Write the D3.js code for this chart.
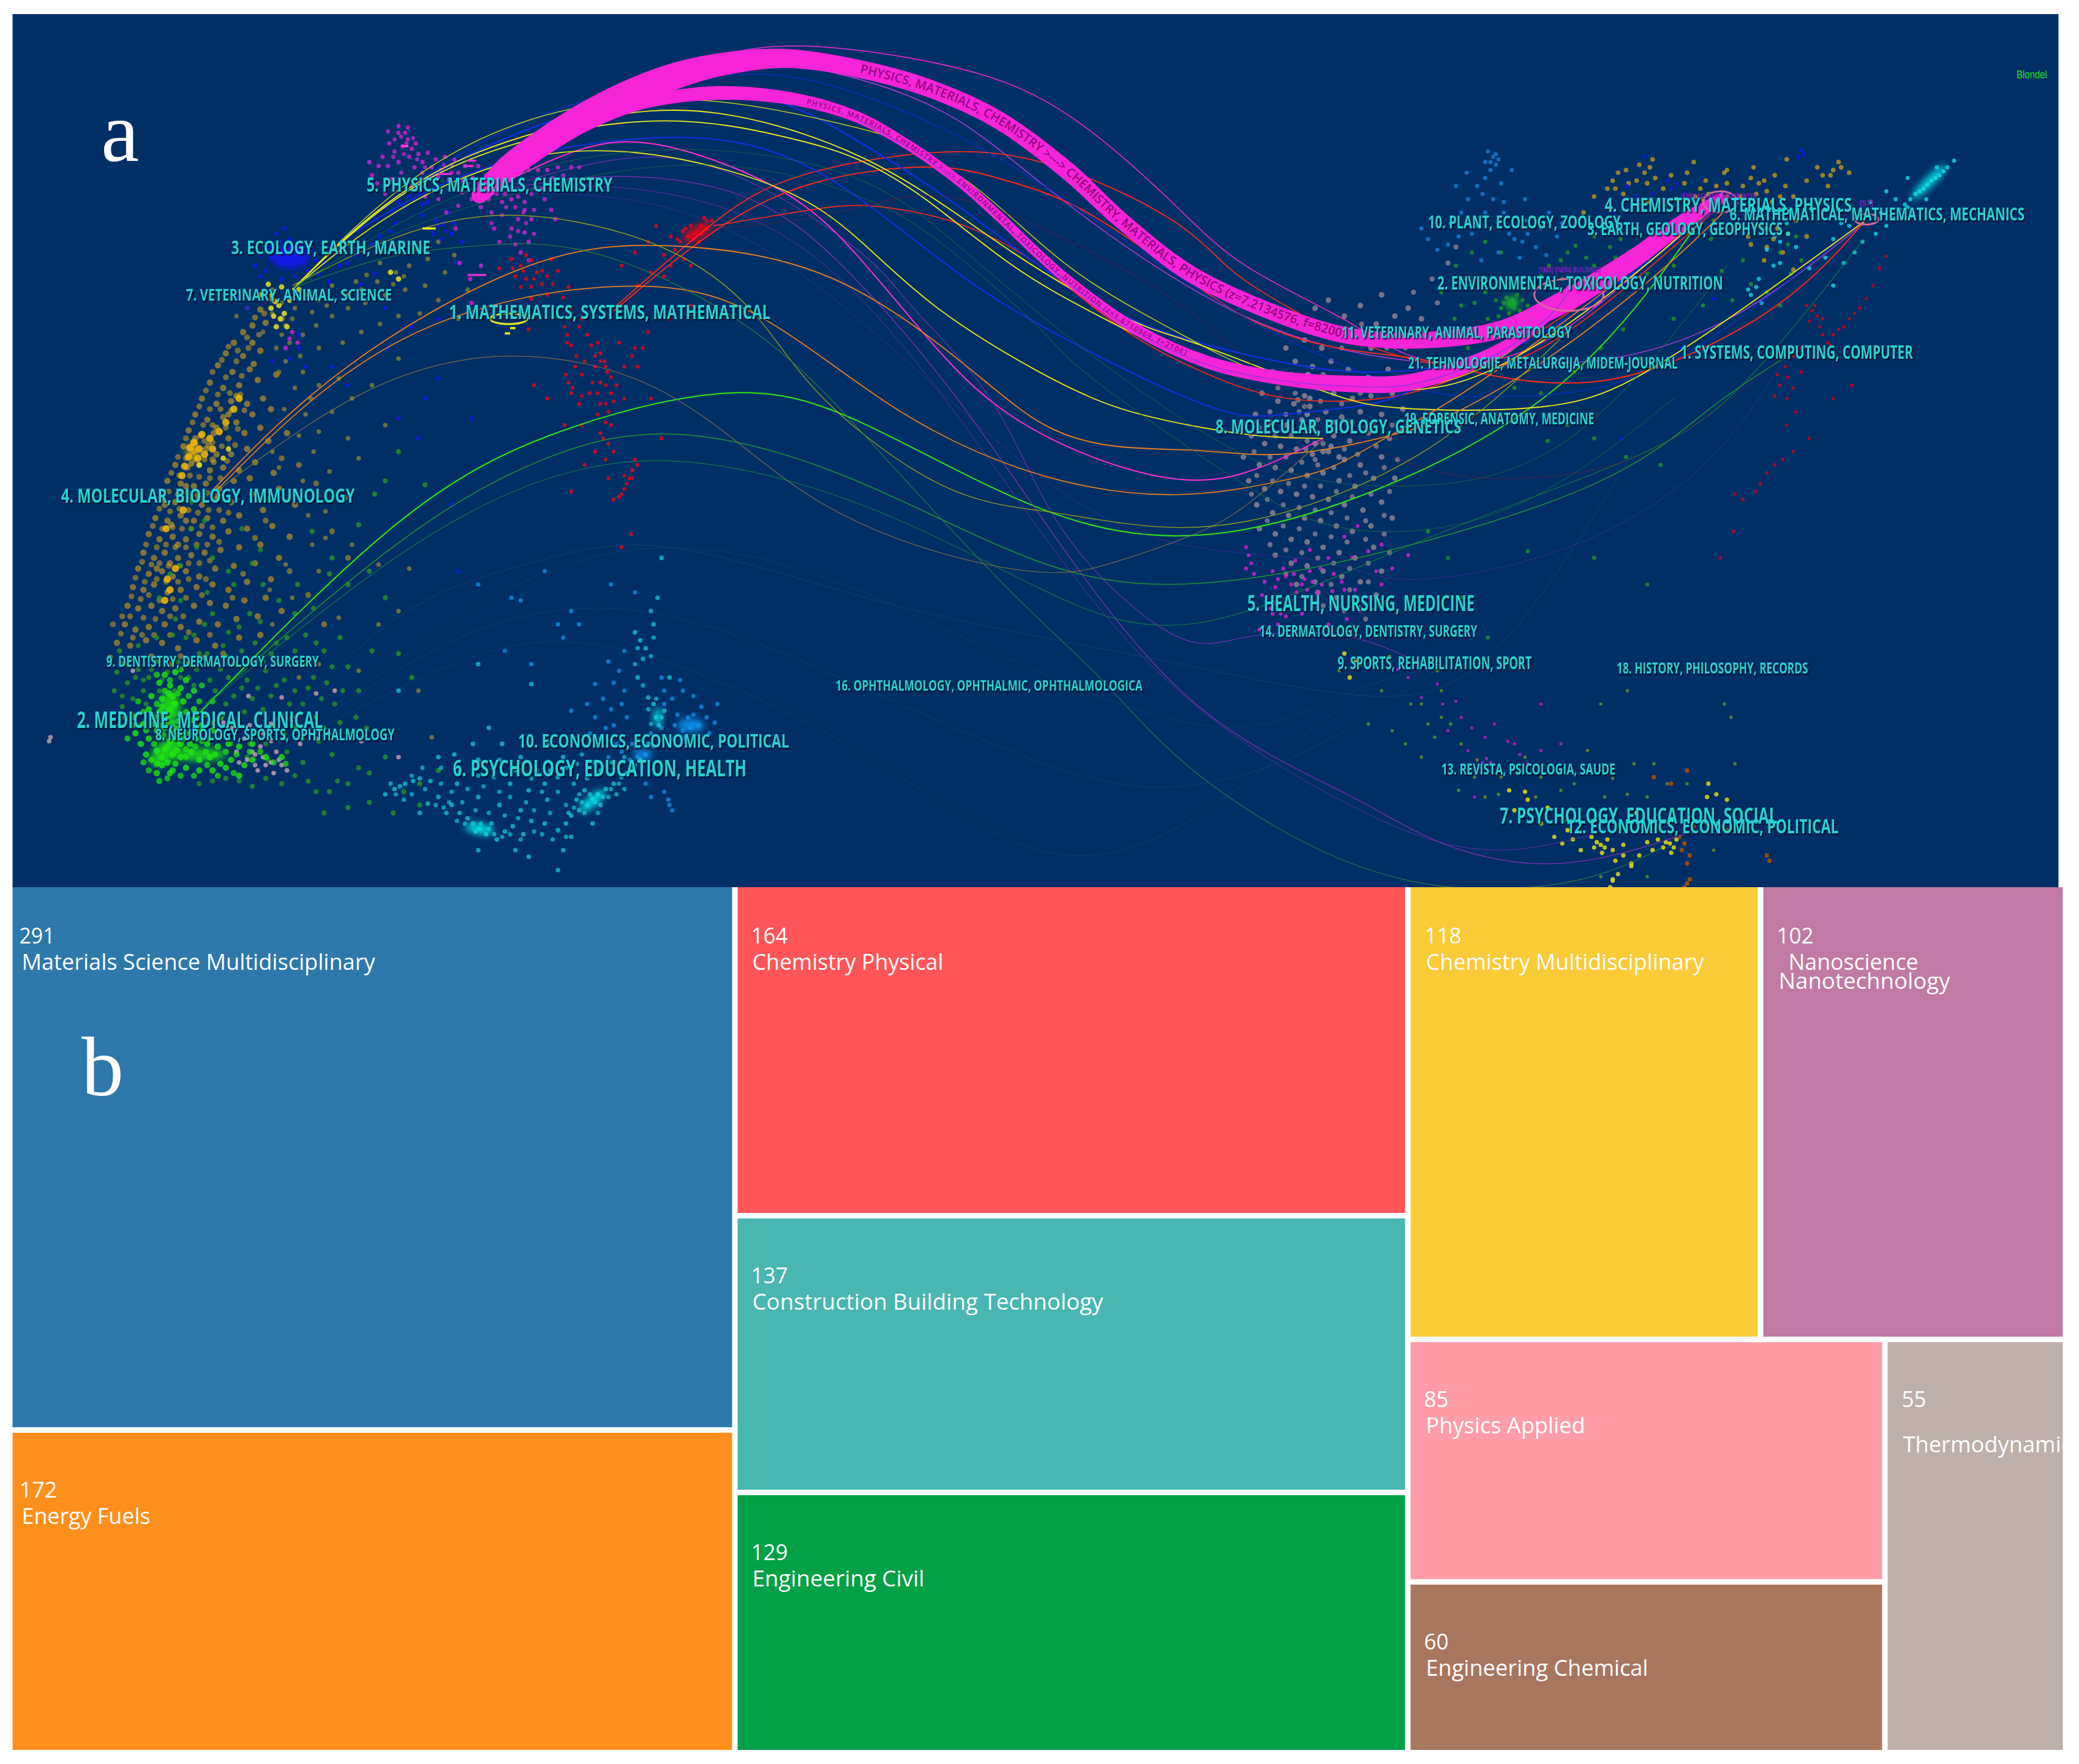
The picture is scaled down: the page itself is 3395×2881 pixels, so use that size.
<!DOCTYPE html>
<html><head><meta charset="utf-8">
<script src="https://d3js.org/d3.v7.min.js"></script>
<style>html,body{margin:0;background:#fff}svg{display:block}</style></head><body>
<svg id="c"></svg>
<script>
/* ---------- treemap data ---------- */
const categories=["Materials Science Multidisciplinary","Energy Fuels","Chemistry Physical","Construction Building Technology","Engineering Civil","Chemistry Multidisciplinary","Nanoscience Nanotechnology","Physics Applied","Engineering Chemical","Thermodynamics"];
const values=[291,172,164,137,129,118,102,85,60,55];
const tileColors=["#2E78AB","#FF8F1C","#FF5558","#49B7B1","#02A146","#FBCB3A","#C07AA3","#FF9CA8","#A9765E","#BDB0AB"];
const tileGroups=[[0,1],[2,3,4],[[5,6],[[7,8],[9]]]];
/* ---------- map: point clouds, in map units (x,y,x,y…) ---------- */
const ptsGold=[196,233,205,225,190,245,200,243,212,240,183,250,176,258,190,258,170,266,183,268,196,264,164,275,175,280,188,278,158,288,168,292,180,290,194,286,208,282,152,300,163,304,174,302,186,304,198,300,147,312,156,316,168,314,178,318,190,312,204,308,142,324,151,328,161,326,172,330,184,326,196,322,138,336,146,340,155,338,163,342,174,342,186,338,202,332,216,326,132,350,141,352,150,350,158,354,168,352,180,354,192,348,126,362,136,364,146,366,155,364,165,368,176,362,188,360,206,356,122,376,132,378,142,376,152,380,162,376,174,378,190,372,210,368,117,390,126,392,136,388,146,392,156,390,168,392,180,388,198,384,222,380,112,402,120,406,130,404,140,406,150,402,160,404,172,400,186,398,205,396,108,416,116,420,124,416,134,420,144,418,154,416,166,414,180,412,196,410,218,404,104,428,112,432,122,430,130,434,140,430,150,434,162,428,176,426,192,424,210,420,100,442,108,444,116,440,126,446,136,444,148,442,160,440,172,444,186,438,204,436,96,456,104,458,114,456,122,460,132,458,146,456,158,454,170,456,184,452,200,450,94,470,102,474,112,472,124,470,136,472,150,468,164,470,178,466,194,464,212,460,88,484,98,486,110,482,122,484,134,488,148,482,162,486,180,480,196,478,150,375,144,349,157,335,147,330,160,346,129,395,134,410,140,392,163,322,172,312,178,298,191,274,140,366,124,380,118,428,128,424];
const ptsGold2=[192,239,199,236,186,254,195,252,172,261,179,264,187,262,167,271,178,272,160,280,170,284,182,283,155,294,164,297,173,296,181,297,150,306,158,308,166,308,174,309,184,309,145,318,153,320,160,320,170,322,179,323,140,330,147,334,154,332,160,333,167,336,177,335,134,344,140,345,147,346,154,346,161,348,171,347,129,356,135,358,143,358,150,359,158,360,166,360,127,370,134,372,141,371,148,372,156,371,164,373,120,383,128,385,135,383,142,384,149,386,157,384,165,384,172,386,115,396,122,398,130,397,137,398,144,398,152,396,160,397,110,410,118,412,125,410,132,412,140,412,148,410,156,410,165,408,107,423,114,425,120,424,127,426,135,426,142,424,150,424,158,422,102,435,109,438,118,436,125,438,134,438,142,436,155,436,99,449,106,451,112,448,120,452,130,451,140,450,152,448,92,464,98,464,108,465,117,466,128,464,138,464,91,477,100,480,107,478,116,478,128,478,142,476,158,478,85,470,83,495,92,500,128,500,114,494,136,494,154,495,168,492,175,450,183,432,192,405,200,392,212,345,225,350,238,364,250,400,262,420,218,430,232,448,244,470];
const ptsGoldBright=[146,333,150,338,142,344,154,342,158,330,139,351,165,325,170,318,176,308,180,300,132,428,124,452,128,444,143,337,149,345,137,358,152,327,160,338,126,436,138,384,125,398];
const ptsOlive=[178,238,186,232,195,222,205,218,212,228,205,236,215,245,222,232,230,222,240,226,250,215,258,220,268,212,276,207,286,198,298,205,308,200,312,188,322,195,330,182,342,192,335,205,320,215,305,218,290,222,275,228,262,232,250,238,238,245,228,252,218,258,208,262,240,262,258,258,272,250,286,244,300,238,316,236,330,226,352,218,345,240,215,272,228,280,240,290,255,285,265,300,280,290,250,310,230,312,262,330,236,340,248,355,228,362,210,352,300,270,290,320,270,345,245,385,265,410,285,425,300,460,315,520,325,555,285,470,240,430,220,450,205,470,255,465,270,505,240,500,225,510,308,428,235,410,260,375,198,250,212,252,220,240,235,235,246,230,262,222,272,218,284,212,296,214,304,208,226,268,210,280,222,292,234,300,214,308,225,328,240,325,205,340,218,376,232,388,245,405,215,425,203,444];
const ptsYellow=[205,222,210,230,214,236,206,238,212,216,202,214,196,222,218,226,225,218,216,246,208,246,150,350,168,345,172,338,294,205,300,210,207,227,211,240,204,232];
const ptsGreenDim=[90,490,98,496,88,506,104,504,112,510,96,514,86,520,108,520,118,498,126,506,134,498,142,510,150,492,160,500,170,494,182,490,192,484,204,492,216,480,230,478,120,520,132,520,146,516,158,512,172,510,186,512,200,505,214,512,228,500,244,490,256,480,92,532,100,538,90,546,106,546,176,524,190,526,204,524,218,530,232,518,246,514,262,502,176,546,192,552,206,546,222,548,238,540,252,530,270,520,186,570,202,572,216,566,228,574,240,558,250,568,262,552,276,548,150,590,170,586,190,592,212,590,232,588,248,596,262,590,278,582,290,570,304,596,316,590,330,580,244,612,262,608,278,604,296,612,316,606,120,450,132,466,146,478,160,462,172,476,188,462,198,440,210,452,224,440,236,458,248,432,128,432,144,398,150,372,176,440,190,424,160,420,235,400,250,420,270,395,282,372,290,362,200,376,300,340,320,365,278,430,262,440,290,450,300,492,310,510,280,490];
const ptsGreenDim2=[94,500,102,510,92,524,110,530,122,512,136,510,148,504,156,492,166,504,176,500,188,498,198,498,210,500,222,490,238,484,250,502,94,540,100,526,108,512,114,504,162,520,170,530,182,518,194,518,208,516,222,520,236,510,168,538,184,536,198,534,212,538,228,530,242,526,258,520,174,560,188,560,200,560,214,552,228,556,244,548,256,544,268,540,160,588,180,588,200,586,222,584,238,596,254,588,270,578,140,480,154,470,168,486,180,472,196,468,208,484,222,462,130,478,118,480,104,486,136,452,156,446,172,430,136,426,148,412,154,392,144,378,182,398,196,414];
const ptsLime=[118,575,122,570,126,574,130,568,124,564,132,575,136,570,118,565,112,556,120,555,128,558,136,560,144,566,150,572,158,570,166,575,174,572,184,576,190,572,200,570,212,570,108,545,116,545,124,548,132,548,140,552,148,556,156,560,164,562,172,560,180,562,190,560,112,534,120,536,128,534,136,538,144,542,152,546,160,550,114,524,122,526,130,524,138,528,146,534,154,538,166,540,120,514,128,516,136,518,124,508,132,506,140,512,146,520,106,560,110,568,102,552,100,540,118,582,128,582,122,576,130,580,140,578,150,580,160,580,170,578,180,584,114,572,126,540,131,530,127,522,143,560,135,553];
const ptsLime2=[116,560,123,553,130,552,138,556,126,562,133,565,140,564,147,562,155,566,162,568,170,566,178,568,188,566,196,566,206,574,215,575,110,550,118,550,126,544,134,543,142,546,150,550,158,556,116,540,122,532,132,530,140,536,148,540,158,544,118,530,124,520,134,522,142,524,150,528,128,512,118,508,136,504,142,500,100,546,96,556,108,574,112,580,120,588,126,586,136,584,146,584,156,576,164,584,176,582,140,570,152,558,130,544,120,546,108,536,104,528,152,516,160,528];
const ptsRose=[178,566,186,572,192,576,198,570,204,574,196,562,208,566,212,576,184,556,174,548,168,544,188,546,198,552,214,556,226,560,238,556,204,545,194,580,206,582,216,580,187,524,220,540,238,522,252,520,272,558,300,570,248,552,100,505,37,558,38,555,212,525,190,566,200,576,210,572,180,574,192,568,204,558];
const ptsBlue=[203,186,210,182,218,180,226,184,234,188,238,196,228,198,220,200,212,198,205,194,215,188,224,190,232,204,240,206,248,212,222,208,212,210,200,204,192,200,180,224,186,232,196,208,250,185,262,178,272,170,282,165,290,156,300,152,308,148,316,146,322,152,330,170,336,174,342,168,326,176,318,162,298,168,286,178,274,188,262,198,338,160,348,182,272,214,290,232,310,246,225,262,218,270,230,276,250,276,262,290,320,300,315,330,330,240,356,235,292,262,300,315,345,198,282,206,205,272,225,252,355,315,340,380,345,430,330,285,312,150,318,154,304,156,296,160,328,166,334,168,340,176,332,180,294,174,280,184,268,192,256,200,244,198,208,176,196,192,188,186,214,172];
const ptsMagenta=[300,95,305,100,307,105,303,110,310,112,293,108,297,114,288,118,285,125,280,132,278,122,292,125,300,122,308,118,315,116,318,122,312,126,322,115,328,120,335,118,340,124,332,128,325,126,318,130,345,130,350,125,342,120,338,135,330,133,352,138,360,138,366,132,372,140,380,146,385,150,378,152,390,148,395,152,400,146,405,135,412,128,420,126,430,126,395,158,400,165,390,165,385,172,395,175,398,182,392,190,370,160,362,156,355,150,348,145,410,150,415,158,418,165,378,125,388,128,398,128,405,128,360,125,295,135,310,140,320,148,336,160,343,172,372,172,300,100,313,108,354,210,362,200,346,198,355,228,215,262,218,255,220,250,224,258];
const ptsMagenta2=[302,103,306,108,311,104,296,118,304,116,314,120,320,126,326,132,334,124,340,130,348,136,356,134,362,144,368,150,374,146,381,156,388,156,394,160,390,174,396,168,402,158,408,142,416,134,370,168,378,162,384,178,402,176,376,182,388,184,398,196,284,138,290,146,302,130,320,140,330,150,345,155,424,132,436,126,297,105,307,96,292,99];
const ptsRed=[528,170,532,172,524,176,518,178,512,182,530,164,536,166,520,170,526,182,514,174,508,188,500,192,505,178,494,170,488,182,478,190,468,200,515,195,520,200,500,208,480,215,396,192,400,196,392,200,404,205,388,208,396,210,408,214,392,216,412,222,400,225,420,204,428,216,385,195,376,202,415,195,430,232,438,240,427,252,430,260,434,268,445,260,452,266,455,272,448,276,457,280,452,288,438,282,428,288,430,296,436,304,444,296,452,304,460,296,464,290,470,276,476,268,480,276,458,310,456,318,452,326,458,334,448,340,474,360,470,368,476,354,480,350,466,374,462,376,490,300,498,330,440,350,430,370,520,230,504,240,425,320,458,360,468,412,475,402,398,248,412,300,402,290,488,250];
const ptsRed2=[433,276,440,272,448,268,452,272,456,276,426,282,431,292,438,298,446,288,450,296,456,290,460,284,427,258,425,246,429,240,436,246,442,252,450,258,462,302,456,304,450,312,460,320,454,330,462,340,456,346,472,364,476,360,470,358,468,372,478,346,528,176,522,180,532,166,516,172,510,180,408,204,402,210,412,208,394,204,386,202,400,216,416,214,424,224,438,320,470,300,484,262,478,262,466,258,505,200,490,205];
const ptsSky=[520,548,526,546,514,550,508,546,534,552,538,544,530,556,518,540,510,538,500,530,528,532,540,530,486,568,480,570,474,572,492,562,468,566,458,570,452,556,448,540,460,534,470,520,466,505,458,498,470,490,448,515,442,530,430,535,504,606,506,610,503,602,500,596,490,600,486,590,498,510,512,512,420,470,385,450,392,452,430,460,424,480,436,470,400,500,380,490,360,440,410,430,460,440,478,446,515,556,522,538,532,540,506,556,498,548,490,552,484,558,476,560,464,560,456,548,462,546,472,540,468,530,462,514,454,526,444,552,506,526,514,520,522,524,500,520];
const ptsCyan=[446,601,450,598,442,606,436,610,430,614,456,594,462,590,468,585,440,595,452,606,434,602,426,620,475,578,482,572,488,560,496,546,494,540,500,535,492,530,488,525,480,510,484,496,486,488,482,482,478,476,492,470,490,460,495,450,498,420,504,510,361,624,356,620,366,628,370,620,352,616,346,612,374,632,380,626,386,622,394,628,400,618,410,620,420,625,430,630,340,606,336,612,330,600,301,592,297,594,305,590,311,588,316,586,324,588,290,598,322,605,316,612,330,570,342,568,360,572,372,585,384,590,398,595,412,602,404,580,392,570,378,560,368,548,356,560,412,560,420,585,424,570,344,590,360,600,376,606,392,610,410,590,434,575,446,620,424,640,398,645,388,640,360,640,420,655,300,520,360,500,400,515];
const ptsCyan2=[444,598,448,604,454,600,438,604,432,608,428,612,460,594,466,590,472,582,478,576,458,600,464,598,470,594,440,612,450,612,358,626,362,620,368,624,372,628,350,620,344,618,378,630,384,628,392,632,402,626,408,628,416,632,426,630,338,604,334,608,328,606,348,604,358,610,368,612,380,614,390,616,402,610,414,612,426,606,436,598,384,600,396,604,408,596,420,596,432,590,442,586,376,596,364,592,352,594,340,596,332,590,320,594,310,598,304,602,298,598,294,590,310,584,318,578,332,578,346,580,360,584,376,572,388,580,400,586,414,580,426,578,438,568,446,574,452,580,460,574,470,570,490,545,498,540,488,534,494,526,484,516,478,500,490,494,480,488,492,480];
const ptsTaupe=[990,232,1000,226,1012,238,1024,230,1040,222,1036,244,1050,238,1060,232,1005,250,1018,256,1032,262,995,262,982,256,968,262,975,272,988,276,1002,272,1015,278,1030,284,1045,278,958,280,968,288,980,290,992,292,1004,296,1018,300,1032,298,1048,296,950,296,962,302,974,304,986,306,998,310,1010,314,1024,310,1040,312,1056,308,945,312,956,318,968,320,980,322,992,326,1004,328,1016,332,1030,326,1046,330,942,328,952,334,964,336,976,338,988,342,1000,340,1012,346,1024,350,1040,344,936,344,948,350,960,352,972,354,984,358,996,356,1008,362,1020,366,1034,360,1050,360,940,362,952,368,964,370,976,372,988,374,1000,376,1012,380,1026,384,1040,378,946,380,958,386,970,388,982,390,994,392,1006,396,1018,400,1032,396,1048,390,948,398,960,402,972,406,984,408,996,412,1008,416,1020,420,1034,412,960,418,972,424,984,426,996,430,1010,434,1024,438,1040,430,976,440,992,446,1006,450,1022,456,1036,448,982,298,986,300,977,301,990,334,996,340,1002,336,1008,344,980,316,984,312,1052,252,1070,240];
const ptsTaupe2=[1064,220,1078,210,1090,198,1096,186,1082,228,1070,250,1058,262,1044,262,1025,244,1010,262,996,282,984,282,972,282,962,292,975,296,994,302,1010,304,1024,296,1040,288,1058,286,956,310,968,312,982,306,992,316,1004,318,1018,318,1034,318,1048,320,948,322,960,328,972,328,984,332,996,334,1012,338,1022,342,1036,336,1052,346,944,340,956,344,968,344,980,348,992,350,1004,352,1016,358,1028,356,1042,352,946,358,958,362,970,364,982,366,994,366,1006,370,1018,374,1032,372,1046,370,942,372,954,376,966,380,978,382,990,384,1002,386,1014,390,1028,392,1042,388,954,392,966,396,978,398,990,402,1002,404,1014,408,1028,406,1042,402,956,410,968,414,980,416,992,420,1004,424,1016,428,1030,424,1046,416,968,432,980,434,990,438,1002,440,1016,444,1030,438,996,456,1012,460,1028,466,985,282,991,288,978,310,988,320,983,338,990,346];
const ptsMagR=[938,412,940,418,942,424,938,428,944,432,958,430,962,436,966,428,972,440,980,440,984,444,976,446,988,438,992,446,964,462,958,462,968,464,950,448,956,458,962,470,948,474,995,440,1003,445,1010,438,1018,420,1030,415,1040,410,1030,450,1040,440,1060,418,1048,428,1000,420,1012,404,1022,396,986,414,975,422,960,442,968,434,974,432,982,436,986,430,994,428,1004,432,1012,444,1020,444,1036,430,964,450,952,438,960,454,970,456,980,462,1000,470,1014,466,1024,460];
const ptsGreenR=[1138,228,1134,224,1142,222,1130,232,1144,234,1136,236,1150,230,1126,226,1118,220,1108,215,1120,240,1152,216,1160,208,1175,196,1186,185,1200,178,1212,186,1216,194,1226,190,1232,196,1236,188,1222,206,1240,206,1255,182,1270,175,1288,180,1290,166,1260,200,1340,190,1346,184,1352,178,1356,196,1348,206,1130,190,1118,182,1108,190,1096,200,1085,220,1095,240,1105,262,1122,280,1140,292,1160,296,1185,280,1205,262,1222,248,1235,270,1260,240,1282,230,1304,226,1318,214,1330,220,1340,230,1296,204,1312,196,1180,320,1165,332,1200,330,1224,344,1250,350,1075,400,1090,420,1100,450,1120,480,1200,420,1240,440,1150,415,1140,232,1132,228,1146,226,1128,238,1110,228,1100,230,1166,200,1180,190,1194,194,1206,172,1220,180,1242,196,1250,212,1176,210,1190,216,1166,216,1200,200];
const ptsSkyR=[1120,114,1124,118,1126,124,1122,128,1128,120,1118,122,1112,140,1105,150,1116,146,1130,138,1138,128,1100,160,1092,168,1112,170,1128,168,1136,176,1146,182,1156,186,1164,192,1144,194,1128,190,1115,196,1082,188,1075,180,1070,172,1090,184,1148,166,1160,172,1172,178,1132,152,1148,150,1104,130,1096,140,1122,122,1126,116,1118,134,1124,150,1132,160,1118,160,1108,176,1098,178,1140,180,1150,176,1166,160,1176,168];
const ptsGoldR=[1238,130,1242,126,1246,134,1240,138,1232,136,1226,138,1214,136,1218,130,1210,142,1222,146,1252,142,1262,150,1280,142,1284,136,1276,148,1292,140,1300,148,1312,140,1318,134,1324,138,1330,144,1336,132,1344,140,1350,148,1360,136,1372,132,1380,128,1386,126,1376,140,1392,130,1270,130,1298,130,1320,126,1345,120,1325,170,1335,180,1342,190,1318,184,1328,196,1350,203,1360,178,1352,166,1200,148,1192,160,1240,152,1258,132,1305,160,1340,158,1300,128,1275,122,1234,124,1244,120,1216,142,1224,128,1286,146,1282,150,1290,152,1310,148,1322,146,1328,136,1340,148,1334,152,1378,132,1384,122,1368,126,1300,138,1268,138,1316,178,1330,186,1346,176,1338,172];
const ptsBlueR=[1356,113,1358,116,1354,118,1258,142,1255,136,1262,138,1225,140,1232,148,1244,146,1268,146,1280,158,1250,158,1215,160,1238,118,1290,225,1265,262,1220,330];
const ptsCyanR=[1471,121,1466,126,1460,132,1454,136,1448,142,1442,146,1438,150,1434,154,1430,158,1425,164,1440,160,1450,150,1458,126,1420,170,1412,176,1402,182,1396,190,1388,198,1436,134,1420,144,1408,152,1400,162,1386,168,1380,180,1374,194,1362,202,1340,182,1336,178,1346,176,1352,186,1330,188,1322,216,1316,218,1324,210,1326,228,1335,200,1380,215,1463,129,1457,134,1451,139,1445,144,1436,156,1427,150,1416,160,1392,170,1345,168,1340,198,1318,222,1330,172];
const ptsRedR=[1364,234,1368,238,1362,242,1370,246,1392,240,1396,236,1388,246,1380,252,1376,258,1344,276,1346,284,1340,290,1336,298,1345,300,1350,268,1356,262,1352,310,1345,320,1350,340,1362,330,1325,364,1322,370,1330,356,1336,350,1342,346,1306,372,1312,376,1380,300,1420,193,1415,202,1410,215,1405,225,1400,232,1404,265,1394,290,1378,260,1305,400,1295,420,1366,230,1360,230,1372,240,1384,248,1344,268,1338,282,1350,292,1356,280,1366,268,1372,252];
const ptsYellowR=[1205,636,1200,638,1210,632,1206,642,1198,630,1214,640,1190,640,1222,636,1228,650,1234,644,1257,635,1252,638,1262,632,1248,632,1244,640,1258,642,1240,634,1214,662,1218,658,1228,652,1150,602,1148,596,1170,630,1180,625,1160,620,1140,610,1136,595,1165,608,1285,600,1292,598,1300,602,1232,612,1214,663,1212,668,1020,497,1024,500,1012,492,1016,510,1286,590,1202,634,1208,638,1254,634,1260,638,1216,648,1176,635,1184,632,1222,644];
const ptsOliveR=[1040,520,1062,530,1075,545,1080,555,1085,540,1100,560,1110,585,1098,595,1118,600,1130,585,1148,570,1160,585,1175,595,1190,610,1208,600,1225,598,1245,575,1255,590,1260,610,1275,610,1300,610,1306,575,1303,540,1298,530,1225,520,1205,530,1195,565,1082,505,1046,494,1008,505,1030,545,1048,550,1058,560,1070,570,1085,520,1290,640,1240,660,1205,660,1070,530,1092,545,1112,572,1128,598,1142,582,1156,600,1185,590,1214,586,1240,600,1230,575,1270,590,1290,612,1178,618];
const ptsMagR2=[1119,571,1116,574,1122,574,1086,530,1100,540,1125,545,1135,558,1140,560,1160,565,1150,575,1105,565,1090,550,1070,525,1060,510,1052,504,1082,515,1110,600,1175,560,1160,530,1096,528,1108,548,1118,555,1144,568,1128,578];
const ptsBrown=[1268,635,1266,640,1272,644,1264,630,1270,650,1275,622,1258,590,1270,580,1285,620,1300,625,1330,644,1332,648,1270,665,1268,668,1272,662,1245,585];
const blobColors=["#22e810","#f0c000","#1414ff","#ff10e0","#ff0010","#00f8f8","#0a9cff","#d8a8b4"];
const blobs=[[0,125,566,14,8,-40],[0,128,532,8,12,0],[0,150,568,20,5,0],[2,218,193,15,9,0],[4,525,175,12,5,-30],[5,446,603,12,4,-40],[5,361,624,11,4,10],[6,520,546,10,5,0],[6,484,568,7,4,0],[5,495,540,3,7,0],[5,1452,137,3.5,18,45],[0,1138,228,5,5,0],[1,145,340,5,6,0]];
/* ---------- map: links ---------- */
const linkKnots=[
[[150,537],[300,395],[420,330],[550,299],[650,320],[784,382],[904,399],[1034,365],[1177,286],[1284,160]],
[[155,530],[300,410],[410,350],[510,330],[640,360],[784,423],[900,436],[1034,415],[1200,364],[1283,308],[1344,269]],
[[150,535],[300,420],[420,362],[530,352],[660,385],[784,440],[900,468],[1060,407],[1228,343],[1311,287],[1403,180]],
[[361,147],[450,80],[540,45],[615,37],[724,54],[804,88],[883,153],[936,199],[1016,240],[1070,268],[1150,262],[1230,205],[1295,150]],
[[361,147],[435,115],[500,112],[590,146],[645,194],[693,247],[751,305],[830,345],[899,360],[950,350],[996,330]],
[[361,147],[460,72],[560,50],[645,62],[724,93],[804,153],[936,237],[1060,269],[1158,272],[1228,265],[1311,234],[1402,169]],
[[361,147],[450,125],[540,128],[645,190],[685,233],[751,305],[800,400],[884,476],[934,478],[1010,478],[1074,502]],
[[361,147],[450,135],[560,150],[640,210],[720,300],[800,410],[900,530],[1014,594],[1086,633],[1175,649],[1268,628]],
[[361,147],[450,142],[560,165],[650,230],[740,340],[830,460],[920,545],[1014,603],[1086,633],[1144,638],[1200,628]],
[[462,232],[537,170],[600,135],[703,117],[788,125],[880,165],[923,201],[963,226],[1020,255],[1095,272],[1170,255],[1295,155]],
[[462,234],[537,176],[610,140],[698,127],[751,136],[804,153],[857,185],[910,221],[946,242],[1002,261],[1064,269],[1113,280],[1166,286],[1239,278],[1339,228],[1405,165]],
[[537,170],[600,160],[645,155],[685,160],[724,170],[777,196],[830,237],[870,262],[910,281],[961,298],[1022,300],[1074,290],[1150,255],[1295,155]],
[[257,181],[340,125],[445,85],[560,72],[645,109],[724,156],[830,230],[936,264],[1016,278],[1090,272],[1170,245],[1295,155]],
[[257,181],[345,135],[450,110],[560,110],[645,150],[724,208],[804,255],[910,305],[961,310],[1022,304],[1074,288],[1180,230]],
[[257,181],[345,118],[450,75],[560,58],[645,73],[751,119],[860,190],[960,250],[1060,290],[1130,296],[1200,290],[1283,257],[1395,172]],
[[220,218],[300,150],[390,110],[500,92],[590,105],[645,121],[698,151],[764,201],[830,237],[910,271],[1042,291],[1130,272],[1230,205],[1295,150]],
[[220,218],[300,160],[400,120],[500,120],[590,145],[645,180],[703,230],[777,276],[838,305],[899,320],[950,328],[996,330]],
[[220,218],[320,130],[430,85],[540,78],[645,98],[677,109],[738,143],[804,201],[883,247],[936,274],[989,288],[1060,291],[1130,268],[1181,222]],
[[220,218],[320,135],[440,95],[540,88],[660,125],[760,190],[850,240],[899,257],[996,294],[1043,305],[1105,308],[1167,304],[1222,288],[1300,240],[1403,167]],
[[160,369],[260,279],[400,202],[510,190],[625,210],[725,275],[784,318],[840,335],[899,338],[950,342],[1002,337],[1053,325],[1099,308],[1177,261],[1255,199],[1297,160]],
[[160,372],[300,258],[465,221],[570,240],[675,309],[784,356],[884,371],[961,361],[1002,351],[1043,329],[1084,306],[1160,255],[1285,160]],
[[160,372],[270,300],[380,272],[500,296],[600,369],[700,412],[784,429],[834,423],[899,401],[940,378],[996,331]],
[[220,215],[300,180],[390,164],[500,189],[570,240],[620,300],[710,365],[784,382],[850,392],[940,390],[1070,340],[1180,250]],
[[220,217],[290,195],[360,188],[450,193],[570,253],[660,340],[760,445],[830,510],[900,580],[1014,647],[1117,667],[1200,658],[1251,638]],
[[220,217],[300,170],[400,130],[520,115],[645,136],[724,190],[800,250],[870,300],[960,350],[1060,360],[1180,330],[1300,200]],
[[220,217],[300,176],[400,145],[530,125],[645,150],[711,187],[777,242],[804,269],[851,305],[950,370],[1025,395],[1140,380],[1260,300]],
[[537,172],[610,165],[680,151],[751,160],[883,225],[960,290],[1060,346],[1144,356],[1241,339],[1339,271]],
[[361,147],[450,150],[560,180],[680,270],[800,370],[900,410],[1000,420],[1060,435],[1180,410],[1280,350],[1344,269]],
[[200,560],[300,465],[400,429],[500,412],[650,451],[784,479],[900,500],[1040,520],[1130,480],[1230,340]],
[[215,560],[330,490],[430,464],[560,480],[784,575],[900,585],[990,560],[1080,505]],
[[210,565],[340,505],[460,490],[640,560],[784,640],[900,610],[990,545],[1060,500]],
[[196,570],[300,500],[420,430],[560,420],[700,470],[784,505],[920,548],[1010,520],[1074,504]]
];
const linkColors=["#2ee61a","#1f9f2e","#158a38","#f02cd2","#ff30d0","#c040e0","#9a35c8","#9a30c0","#8030b8","#ff2a1a","#ff2a1a","#ff2a1a","#1030e8","#1030e8","#0f2ed8","#e8e820","#dcdc20","#c8d020","#e6e620","#f08020","#e88020","#8a7a40","#9aa818","#2e8a3a","#227a3a","#1f7a38","#6a2038","#5a2aa8","#1a5a70","#1a5070","#184f78","#174f6a"];
const linkWidths=[2,1.5,1.2,1.5,2,1.5,1.1,1.3,1,1.7,2,1.7,2.2,2,1.4,1.9,1.9,1.5,1.9,1.8,1.7,1.2,1.4,1.2,1.1,1.1,1,1,.9,.9,.9,.9];
const linkAlpha=[1,.9,.8,1,1,.95,.75,.85,.7,1,1,1,1,1,.8,1,1,.95,1,1,1,.85,.9,.8,.6,.6,.7,.6,.55,.5,.45,.45];
/* ---------- map: the two thick ribbons [x,y,width] ---------- */
const ribbonA=[[362,146,10],[380,128,16],[410,106,18],[450,82,19],[500,60,19],[540,49,16],[590,44,13],[645,51.5,12],[698,66,12],[751,90,12],[804,129,12],[843,165,11],[896,206,11],[963,237,11],[1016,253,11],[1074,256,11],[1130,248,12],[1172,230,15],[1228,196,13],[1270,165,10],[1298,148,6]];
const ribbonB=[[362,148,8],[400,118,10],[440,94,9],[482,78,8],[540,70,9],[600,75,8],[645,88,7],[685,110,6],[724,138,6],[751,162,6],[777,187,6],[804,211,6],[857,249,7],[910,273,8],[963,284.5,9],[1016,289,11],[1060,288,11],[1116,270,9],[1150,250,7],[1172,230,6],[1182,216,3]];
const ribbonRoot=[361,147];
const ribbonATitle="PHYSICS, MATERIALS, CHEMISTRY >---> CHEMISTRY, MATERIALS, PHYSICS (z=7.2134576, f=8200)";
const ribbonBTitle="PHYSICS, MATERIALS, CHEMISTRY >---> ENVIRONMENTAL, TOXICOLOGY, NUTRITION (z=1.6710969, f=2106)";
/* ---------- map: labels ---------- */
const mapLabels=["5. PHYSICS, MATERIALS, CHEMISTRY","3. ECOLOGY, EARTH, MARINE","7. VETERINARY, ANIMAL, SCIENCE","1. MATHEMATICS, SYSTEMS, MATHEMATICAL","4. MOLECULAR, BIOLOGY, IMMUNOLOGY","9. DENTISTRY, DERMATOLOGY, SURGERY","2. MEDICINE, MEDICAL, CLINICAL","8. NEUROLOGY, SPORTS, OPHTHALMOLOGY","10. ECONOMICS, ECONOMIC, POLITICAL","6. PSYCHOLOGY, EDUCATION, HEALTH","16. OPHTHALMOLOGY, OPHTHALMIC, OPHTHALMOLOGICA","10. PLANT, ECOLOGY, ZOOLOGY","4. CHEMISTRY, MATERIALS, PHYSICS","6. MATHEMATICAL, MATHEMATICS, MECHANICS","3. EARTH, GEOLOGY, GEOPHYSICS","2. ENVIRONMENTAL, TOXICOLOGY, NUTRITION","11. VETERINARY, ANIMAL, PARASITOLOGY","21. TEHNOLOGIJE, METALURGIJA, MIDEM-JOURNAL","1. SYSTEMS, COMPUTING, COMPUTER","19. FORENSIC, ANATOMY, MEDICINE","8. MOLECULAR, BIOLOGY, GENETICS","5. HEALTH, NURSING, MEDICINE","14. DERMATOLOGY, DENTISTRY, SURGERY","9. SPORTS, REHABILITATION, SPORT","18. HISTORY, PHILOSOPHY, RECORDS","13. REVISTA, PSICOLOGIA, SAUDE","7. PSYCHOLOGY, EDUCATION, SOCIAL","12. ECONOMICS, ECONOMIC, POLITICAL"];
const labelX0=[276,174,140,338,46,80,58,117,390,341,629,1075,1208,1302,1195,1082,1010,1060,1265,1057,915,939,948,1007,1217,1085,1129,1179];
const labelX1=[461,324,295,580,267,240,243,297,594,562,860,1220,1394,1524,1342,1297,1183,1263,1440,1200,1100,1110,1112,1153,1361,1216,1338,1384];
const labelY=[139,186,222,235,373,498,542,553,558,578,516,167,154,161,172,213,250,273,265,315,321,454,475,499,503,579,614,622];
const labelSize=[32,31,27,32,32,25,37,26,30,38,24,29,33,29,29,31,27,27,31,27,33,36,27,29,25,25,36,33];
/* small node marks */
const nodeRings=[[1181,222,26,12,"#d8689c"],[1405,165,9,4,"#d8689c"],[383,240,14,4,"#e8e820"],[1295,152,13,8,"#d8689c"]];
const nodeTexts=["[1880] ENERG BUILDINGS","[8200] ACS APPL MATER INTER","[57]"];
const nodeTextPos=[[1158,205,47],[1265,150,57],[1400,155,10]];
const dashes=[[323,172,10,"#f0f020"],[359,207,14,"#e030d0"],[335,131,10,"#e030d0"],[353,125,7,"#e030d0"],[355,121,7,"#e030d0"],[305,110,5,"#ff40e0"],[386,247,4,"#f0f020"],[382,251,4,"#f0f020"]];

/* ---------- scaffolding ---------- */
const W=3395,H=2881;
const svg=d3.select("#c").attr("width",W).attr("height",H).attr("viewBox",[0,0,W,H]);
const x=d3.scaleLinear().domain([0,1565]).range([0,W]);
const y=d3.scaleLinear().domain([0,1328]).range([0,H]);
const k=W/1565;
const pairs=a=>d3.range(0,a.length,2).map(i=>[a[i],a[i+1]]);
const defs=svg.append("defs");
defs.append("filter").attr("id","blur").attr("x","-60%").attr("y","-60%").attr("width","220%").attr("height","220%").append("feGaussianBlur").attr("stdDeviation",6);
defs.append("clipPath").attr("id","mapClip").append("rect").attr("x",20.5).attr("y",23).attr("width",3341).attr("height",1426);

/* panel a */
svg.append("rect").attr("x",20.5).attr("y",23).attr("width",3341).attr("height",1426).attr("fill","#002F66");
const map=svg.append("g").attr("clip-path","url(#mapClip)");
map.append("g").selectAll("ellipse").data(blobs).join("ellipse")
 .attr("transform",d=>`translate(${x(d[1])},${y(d[2])}) rotate(${d[5]})`)
 .attr("rx",d=>d[3]*k).attr("ry",d=>d[4]*k).attr("fill",d=>blobColors[d[0]]).attr("opacity",.85).attr("filter","url(#blur)");
const clouds=[[ptsGold,"#dca514",5.2,.58],[ptsGold2,"#dca514",4.8,.52],[ptsOlive,"#a89b2a",3.8,.6],[ptsGreenDim,"#2a9a22",4.2,.75],[ptsGreenDim2,"#2a9a22",4.2,.7],[ptsGoldBright,"#f6b800",6,.85],[ptsYellow,"#e8e020",4.4,.85],[ptsRose,"#d8a8b8",3.8,.75],[ptsLime,"#22e612",5.2,.8],[ptsLime2,"#22e612",5,.7],[ptsBlue,"#1616f0",3.6,.75],[ptsMagenta,"#d826d8",3.6,.75],[ptsMagenta2,"#d826d8",3.4,.7],[ptsRed,"#ec0616",3.2,.8],[ptsRed2,"#ec0616",3,.8],[ptsSky,"#1296ec",3.6,.7],[ptsCyan,"#18dce4",3.8,.65],[ptsCyan2,"#18dce4",3.6,.6],[ptsTaupe,"#b39aa0",4.6,.65],[ptsTaupe2,"#b39aa0",4.2,.6],[ptsMagR,"#d820d8",3.2,.8],[ptsGreenR,"#1f9a28",3.4,.75],[ptsSkyR,"#1884d8",3.4,.75],[ptsGoldR,"#c89f18",3.8,.75],[ptsBlueR,"#1414f0",3,.85],[ptsCyanR,"#18e0e8",3.4,.75],[ptsRedR,"#c80818",2.8,.8],[ptsOliveR,"#6f9428",2.8,.75],[ptsMagR2,"#c020c8",2.6,.8],[ptsYellowR,"#dcd818",3.6,.85],[ptsBrown,"#b45000",3.6,.85]];
clouds.forEach(([p,c,r,o])=>map.append("g").selectAll("circle").data(pairs(p)).join("circle")
 .attr("cx",d=>x(d[0])).attr("cy",d=>y(d[1])).attr("r",r).attr("fill",c).attr("opacity",o));

const spline=d3.line().x(d=>x(d[0])).y(d=>y(d[1])).curve(d3.curveCatmullRom.alpha(.5));
const smooth=d3.line().x(d=>x(d[0])).y(d=>y(d[1])).curve(d3.curveBasis);
// basis control points that make the smooth curve pass close to each knot
const through=kn=>kn.map((p,i)=>(i===0||i===kn.length-1)?p:[1.5*p[0]-.25*(kn[i-1][0]+kn[i+1][0]),1.5*p[1]-.25*(kn[i-1][1]+kn[i+1][1])]);
map.append("g").attr("fill","none").selectAll("path").data(linkKnots).join("path")
 .attr("d",d=>smooth(through(d))).attr("stroke",(d,i)=>linkColors[i]).attr("stroke-width",(d,i)=>linkWidths[i]).attr("opacity",(d,i)=>linkAlpha[i]);

function normalAt(kn,i){
  const a=kn[Math.max(0,i-1)],b=kn[Math.min(kn.length-1,i+1)];
  const dx=b[0]-a[0],dy=b[1]-a[1],l=Math.hypot(dx,dy);
  return [-dy/l,dx/l];
}
function ribbonPath(kn){
  const up=[],dn=[];
  kn.forEach((p,i)=>{
    const [nx,ny]=normalAt(kn,i),h=p[2]/2;
    up.push([p[0]+nx*h,p[1]+ny*h]);dn.unshift([p[0]-nx*h,p[1]-ny*h]);
  });
  return spline(up)+"L"+spline(dn).slice(1)+"Z";
}
const ribbonPaint=map.append("g").attr("fill","#F724D8").attr("stroke","#F724D8").attr("stroke-width",3).attr("stroke-linejoin","round");
ribbonPaint.append("path").attr("d",ribbonPath(ribbonB));
ribbonPaint.append("path").attr("d",ribbonPath(ribbonA));
ribbonPaint.append("circle").attr("cx",x(ribbonRoot[0])).attr("cy",y(ribbonRoot[1])).attr("r",13).attr("stroke","none");
map.append("path").attr("d",spline(ribbonB.slice(6).map(d=>[d[0],d[1]+1.8]))).attr("fill","none").attr("stroke","#7a3ae0").attr("stroke-width",1.5).attr("opacity",.8);

function ribbonText(id,kn,from,to,shift,title,size,frac,dx){
  const sel=d3.range(from,to).map(i=>{const [nx,ny]=normalAt(kn,i);return [kn[i][0]+nx*shift,kn[i][1]+ny*shift];});
  const p=defs.append("path").attr("id",id).attr("d",spline(sel));
  const len=p.node().getTotalLength();
  map.append("text").attr("font-family","Open Sans").attr("font-size",size).attr("font-weight",600).attr("fill","#94087E")
   .append("textPath").attr("href","#"+id).attr("startOffset",dx).attr("textLength",len*frac).attr("lengthAdjust","spacing").text(title);
}
ribbonText("ra",ribbonA,7,15,2.6,ribbonATitle,20,.985,6);
ribbonText("rb",ribbonB,5,14,1.6,ribbonBTitle,12,.93,16);

map.append("g").attr("fill","none").selectAll("ellipse").data(nodeRings).join("ellipse")
 .attr("cx",d=>x(d[0])).attr("cy",d=>y(d[1])).attr("rx",d=>d[2]*k).attr("ry",d=>d[3]*k).attr("stroke",d=>d[4]).attr("stroke-width",3);
map.append("g").selectAll("line").data(dashes).join("line")
 .attr("x1",d=>x(d[0]-d[2]/2)).attr("x2",d=>x(d[0]+d[2]/2)).attr("y1",d=>y(d[1])).attr("y2",d=>y(d[1])).attr("stroke",d=>d[3]).attr("stroke-width",3.5);
map.append("g").selectAll("text").data(nodeTexts).join("text")
 .attr("x",(d,i)=>x(nodeTextPos[i][0])).attr("y",(d,i)=>y(nodeTextPos[i][1])).attr("textLength",(d,i)=>nodeTextPos[i][2]*k)
 .attr("lengthAdjust","spacingAndGlyphs").attr("font-family","Open Sans").attr("font-size",13).attr("font-weight",700).attr("fill","#8a18b8").text(d=>d);

const lab=map.append("g").style("filter","drop-shadow(2.5px 2.5px 1px #011026)").attr("font-family","Open Sans").attr("font-weight",700).attr("fill","#25D2D2");
lab.selectAll("text").data(mapLabels).join("text")
 .attr("x",(d,i)=>x(labelX0[i])).attr("y",(d,i)=>y(labelY[i])+labelSize[i]*.36)
 .attr("font-size",(d,i)=>labelSize[i]).attr("textLength",(d,i)=>(labelX1[i]-labelX0[i])*k).attr("lengthAdjust","spacingAndGlyphs").text(d=>d);
map.append("text").attr("x",x(1518)).attr("y",y(56)+7).attr("font-family","Liberation Sans").attr("font-size",19).attr("fill","#18e018").attr("textLength",23*k).attr("lengthAdjust","spacingAndGlyphs").text("Blondel");

/* panel b: treemap */
function nest(g){return Array.isArray(g)?{children:g.map(nest)}:{i:g,value:values[g]};}
const root=d3.hierarchy(nest(tileGroups)).sum(d=>d.value||0);
const tile=(n,a,b,c,d)=>(n.depth%2===0?d3.treemapDice:d3.treemapSlice)(n,a,b,c,d);
d3.treemap().tile(tile).size([3348,1409]).paddingInner(9).round(true)(root);
const tm=svg.append("g").attr("transform","translate(20.5,1449)");
const leaves=tm.selectAll("g").data(root.leaves()).join("g").attr("transform",d=>`translate(${d.x0},${d.y0})`);
leaves.append("clipPath").attr("id",d=>"t"+d.data.i).append("rect").attr("width",d=>d.x1-d.x0).attr("height",d=>d.y1-d.y0);
leaves.append("rect").attr("width",d=>d.x1-d.x0).attr("height",d=>d.y1-d.y0).attr("fill",d=>tileColors[d.data.i]);
const numW=[58,62,60,60,60,60,60,40,40,40];
const labLines=[["Materials Science Multidisciplinary"],["Energy Fuels"],["Chemistry Physical"],["Construction Building Technology"],["Engineering Civil"],["Chemistry Multidisciplinary"],["Nanoscience","Nanotechnology"],["Physics Applied"],["Engineering Chemical"],["","Thermodynamics"]];
const labW=[[577],[210],[312],[573],[281],[454],[212,280],[260],[363],[0,293]];
const labDx=[[15],[15],[24],[24],[24],[25],[41,25],[25],[25],[0,25]];
const numDx=[11,11,22,22,22,23,22,22,22,23];
const topRow=[1,0,1,0,0,1,1,0,0,0];
const tx=leaves.append("g").attr("clip-path",d=>`url(#t${d.data.i})`).attr("font-family","Open Sans").attr("font-weight",500).attr("font-size",36).attr("fill","#fff");
tx.append("text").attr("x",d=>numDx[d.data.i]).attr("y",d=>topRow[d.data.i]?92:106).attr("textLength",d=>numW[d.data.i]).attr("lengthAdjust","spacingAndGlyphs").text(d=>values[d.data.i]);
tx.each(function(d){
  const i=d.data.i,g=d3.select(this),y0=topRow[i]?135:149;
  labLines[i].forEach((s,j)=>{ if(!s) return;
    g.append("text").attr("x",labDx[i][j]).attr("y",y0+j*31).attr("textLength",labW[i][j]).attr("lengthAdjust","spacingAndGlyphs").text(s);
  });
});

/* panel letters */
svg.append("text").attr("x",165).attr("y",263).attr("font-family","Liberation Serif").attr("font-size",140).attr("fill","#fff").text("a");
svg.append("text").attr("x",133).attr("y",1789).attr("font-family","Liberation Serif").attr("font-size",138).attr("fill","#fff").text("b");
</script></body></html>
